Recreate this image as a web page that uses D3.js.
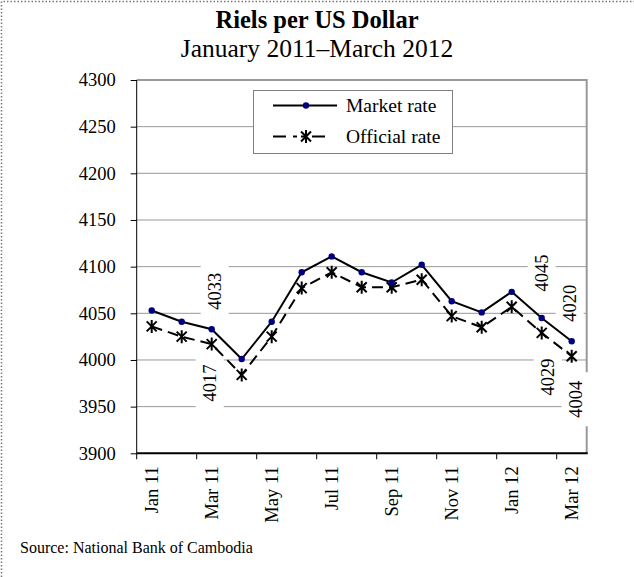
<!DOCTYPE html>
<html>
<head>
<meta charset="utf-8">
<script src="https://cdn.jsdelivr.net/npm/d3@7"></script>
<style>
  body { margin: 0; background: #fff; }
  svg { display: block; font-family: "Liberation Serif", "Times New Roman", serif; }
</style>
</head>
<body>
<div id="vis"></div>
<script>
const months = ["Jan 11", "Feb 11", "Mar 11", "Apr 11", "May 11", "Jun 11", "Jul 11", "Aug 11",
                "Sep 11", "Oct 11", "Nov 11", "Dec 11", "Jan 12", "Feb 12", "Mar 12"];
const marketRate = [4053, 4041, 4033, 4001, 4041, 4094, 4111, 4094, 4083, 4102, 4063, 4051, 4073, 4045, 4020];
const officialRate = [4036, 4025, 4017, 3984, 4025, 4077, 4094, 4078, 4078, 4086, 4047, 4035, 4057, 4029, 4004];
const yTicks = [3900, 3950, 4000, 4050, 4100, 4150, 4200, 4250, 4300];
const xTickLabels = ["Jan 11", "Mar 11", "May 11", "Jul 11", "Sep 11", "Nov 11", "Jan 12", "Mar 12"];
// which points carry a value label
const marketLabels = ["Mar 11", "Feb 12", "Mar 12"];
const officialLabels = ["Mar 11", "Feb 12", "Mar 12"];

const layout = {
    width: 634,
    height: 577,
    left: 136.7,
    right: 586.7,
    top: 80,
    bottom: 453.3,
    fontSize: 18.5
};

let svg = d3.select("#vis").append("svg")
    .attr("width", layout.width)
    .attr("height", layout.height);

// dotted frame (only top and left show)
svg.append("path")
    .attr("d", `M1.5,${layout.height}V1.5H${layout.width}`)
    .attr("fill", "none")
    .attr("stroke", "#777")
    .attr("stroke-width", 1.5)
    .attr("stroke-dasharray", "1.5,2");

// titles
svg.append("text")
    .attr("x", 317).attr("y", 28)
    .attr("text-anchor", "middle")
    .attr("font-size", 24.5).attr("font-weight", "bold")
    .text("Riels per US Dollar");
svg.append("text")
    .attr("x", 317).attr("y", 57)
    .attr("text-anchor", "middle")
    .attr("font-size", 25.5)
    .text("January 2011\u2013March 2012");

// scales
let xScale = d3.scaleBand()
    .domain(months)
    .range([layout.left, layout.right]);
let cx = d => xScale(d) + xScale.bandwidth() / 2;
let yScale = d3.scaleLinear()
    .domain([3900, 4300])
    .range([layout.bottom, layout.top]);

// gridlines
svg.append("g")
    .selectAll("line")
    .data(yTicks.filter(t => t > 3900 && t < 4300))
    .join("line")
    .attr("x1", layout.left).attr("x2", layout.right)
    .attr("y1", d => yScale(d)).attr("y2", d => yScale(d))
    .attr("stroke", "#999").attr("stroke-width", 1);

// top and right border of plot area
svg.append("path")
    .attr("d", `M${layout.left},${yScale(4300)}H${layout.right}V${layout.bottom}`)
    .attr("fill", "none")
    .attr("stroke", "#999").attr("stroke-width", 2);

// y axis
let yAxis = svg.append("g")
    .attr("transform", `translate(${layout.left},0)`)
    .call(d3.axisLeft(yScale).tickValues(yTicks).tickSize(6).tickPadding(15).tickFormat(d3.format("d")));
yAxis.selectAll("line, .domain").attr("stroke", "#000");
yAxis.select(".domain").attr("d", `M0,${layout.top}V${layout.bottom}`);
yAxis.selectAll("text")
    .attr("font-family", "Liberation Serif, Times New Roman, serif")
    .attr("font-size", layout.fontSize).attr("fill", "#000");

// x axis: ticks on every second category boundary
let boundaries = months.filter((m, i) => i % 2 === 0);
let xAxis = svg.append("g");
xAxis.append("line")
    .attr("x1", layout.left).attr("x2", layout.right + 1)
    .attr("y1", layout.bottom).attr("y2", layout.bottom)
    .attr("stroke", "#000").attr("stroke-width", 2);
xAxis.selectAll(".tick")
    .data(boundaries)
    .join("line")
    .attr("class", "tick")
    .attr("x1", d => xScale(d)).attr("x2", d => xScale(d))
    .attr("y1", layout.bottom).attr("y2", layout.bottom + 6)
    .attr("stroke", "#000").attr("stroke-width", 1);
xAxis.selectAll("text")
    .data(xTickLabels)
    .join("text")
    .attr("transform", d => `translate(${cx(d)},${layout.bottom + 13}) rotate(-90)`)
    .attr("text-anchor", "end")
    .attr("dy", "0.35em")
    .attr("font-size", layout.fontSize)
    .text(d => d);

// value labels with white boxes
function valueLabel(month, value, dx, dy) {
    let x = cx(month) + dx, y = yScale(value) + dy;
    let g = svg.append("g").attr("transform", `translate(${x},${y})`);
    g.append("rect")
        .attr("x", -14).attr("y", -27).attr("width", 28).attr("height", 54)
        .attr("fill", "#fff");
    g.append("text")
        .attr("transform", "rotate(-90)")
        .attr("text-anchor", "middle")
        .attr("dy", "0.35em")
        .attr("font-size", layout.fontSize)
        .text(value);
}
const marketShift = [[3, -38], [0, -45], [-2, -38]];
const officialShift = [[-2, 39], [6, 44], [4, 43]];
marketLabels.forEach((m, i) => valueLabel(m, marketRate[months.indexOf(m)], ...marketShift[i]));
officialLabels.forEach((m, i) => valueLabel(m, officialRate[months.indexOf(m)], ...officialShift[i]));

// series
let line = d3.line()
    .x((d, i) => cx(months[i]))
    .y(d => yScale(d));

svg.append("path")
    .datum(officialRate)
    .attr("fill", "none")
    .attr("stroke", "#000")
    .attr("stroke-width", 2)
    .attr("stroke-dasharray", "11,6")
    .attr("d", line);

svg.append("path")
    .datum(marketRate)
    .attr("fill", "none")
    .attr("stroke", "#000")
    .attr("stroke-width", 2)
    .attr("d", line);

const star = "M-5,-5L5,5M-5,5L5,-5M0,-6.5V6.5";
svg.append("g")
    .selectAll("path")
    .data(officialRate)
    .join("path")
    .attr("transform", (d, i) => `translate(${cx(months[i])},${yScale(d)})`)
    .attr("d", star)
    .attr("stroke", "#000").attr("stroke-width", 2).attr("fill", "none");

svg.append("g")
    .selectAll("circle")
    .data(marketRate)
    .join("circle")
    .attr("cx", (d, i) => cx(months[i]))
    .attr("cy", d => yScale(d))
    .attr("r", 3.2)
    .attr("fill", "#000080");

// legend
let legend = svg.append("g");
legend.append("rect")
    .attr("x", 253.5).attr("y", 90.5).attr("width", 199).attr("height", 63)
    .attr("fill", "#fff").attr("stroke", "#808080");
legend.append("line")
    .attr("x1", 273).attr("x2", 337).attr("y1", 105.5).attr("y2", 105.5)
    .attr("stroke", "#000").attr("stroke-width", 2);
legend.append("circle")
    .attr("cx", 306).attr("cy", 105.5).attr("r", 3.2).attr("fill", "#000080");
legend.append("text")
    .attr("x", 346).attr("y", 105.5).attr("dy", "0.35em")
    .attr("font-size", 19.5).text("Market rate");
legend.append("line")
    .attr("x1", 273).attr("x2", 337).attr("y1", 136.5).attr("y2", 136.5)
    .attr("stroke", "#000").attr("stroke-width", 2)
    .attr("stroke-dasharray", "13,7,4,4,4,7,13");
legend.append("path")
    .attr("transform", "translate(306,136.5)")
    .attr("d", star)
    .attr("stroke", "#000").attr("stroke-width", 2).attr("fill", "none");
legend.append("text")
    .attr("x", 346).attr("y", 136.5).attr("dy", "0.35em")
    .attr("font-size", 19.5).text("Official rate");

// source
svg.append("text")
    .attr("x", 20).attr("y", 553)
    .attr("font-size", 16)
    .text("Source: National Bank of Cambodia");
</script>
</body>
</html>
